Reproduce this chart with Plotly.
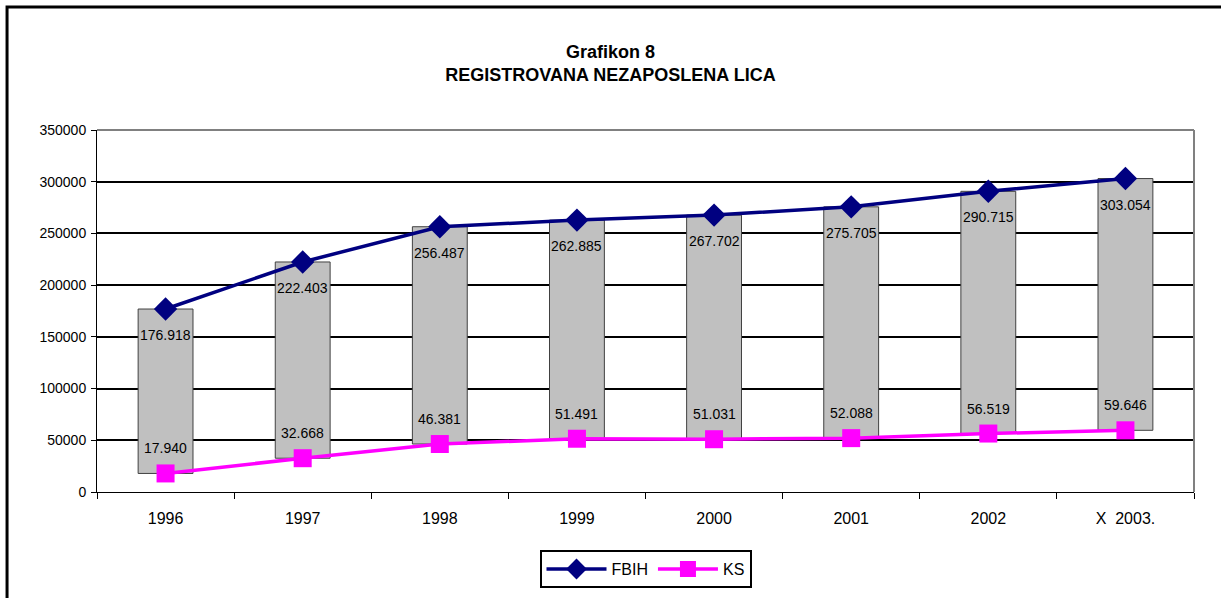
import plotly.graph_objects as go

categories = ["1996", "1997", "1998", "1999", "2000", "2001", "2002", "X  2003."]
fbih = [176918, 222403, 256487, 262885, 267702, 275705, 290715, 303054]
ks = [17940, 32668, 46381, 51491, 51031, 52088, 56519, 59646]
y_ticks = [0, 50000, 100000, 150000, 200000, 250000, 300000, 350000]


def fmt(v):
    return f"{v:,}".replace(",", ".")


FONT = "Liberation Sans, Arial, sans-serif"

fig = go.Figure()

fig.add_trace(go.Bar(
    x=categories,
    y=[h - l for h, l in zip(fbih, ks)],
    base=ks,
    width=0.4,
    marker=dict(color="#C0C0C0", line=dict(color="#404040", width=1)),
    showlegend=False,
    hoverinfo="skip",
))

fig.add_trace(go.Scatter(
    x=categories, y=fbih, name="FBIH", mode="lines+markers",
    line=dict(color="#000080", width=3.5),
    marker=dict(symbol="diamond", size=18, color="#000080"),
))
fig.add_trace(go.Scatter(
    x=categories, y=ks, name="KS", mode="lines+markers",
    line=dict(color="#FF00FF", width=3.5),
    marker=dict(symbol="square", size=18, color="#FF00FF"),
))

for i, v in enumerate(fbih):
    fig.add_annotation(x=i, y=v, text=fmt(v), showarrow=False, yshift=-26,
                       font=dict(family=FONT, size=14, color="black"))
for i, v in enumerate(ks):
    fig.add_annotation(x=i, y=v, text=fmt(v), showarrow=False, yshift=25,
                       font=dict(family=FONT, size=14, color="black"))

fig.update_layout(
    width=1221, height=598,
    margin=dict(l=97, r=27, t=130, b=106, autoexpand=False),
    paper_bgcolor="white", plot_bgcolor="white",
    font=dict(family=FONT, size=14, color="black"),
    title=dict(
        text="<b>Grafikon 8<br>REGISTROVANA NEZAPOSLENA LICA</b>",
        x=0.5, xanchor="center", y=0.903, yref="container", yanchor="middle",
        font=dict(family=FONT, size=18, color="black"),
    ),
    showlegend=True,
    legend=dict(
        orientation="h", x=0.5, xanchor="center", xref="paper",
        y=-0.213, yanchor="middle",
        bordercolor="black", borderwidth=2, bgcolor="white",
        font=dict(family=FONT, size=16, color="black"),
        itemwidth=60,
    ),
)

fig.update_xaxes(
    type="category", showline=True, linecolor="black", linewidth=1,
    ticks="outside", tickson="boundaries", ticklen=6, tickcolor="black",
    showgrid=False, tickfont=dict(family=FONT, size=16, color="black"),
    ticklabelstandoff=12, range=[-0.5, 7.5],
)
fig.update_yaxes(
    range=[0, 350000], tickvals=y_ticks, ticktext=[str(t) for t in y_ticks],
    showline=True, linecolor="black", linewidth=1,
    ticks="outside", ticklen=5, tickcolor="black",
    showgrid=True, gridcolor="black", gridwidth=2,
    zeroline=False, tickfont=dict(family=FONT, size=14, color="black"),
    ticklabelstandoff=2,
)

# plot-area border (top and right, grey)
fig.add_shape(type="line", xref="paper", yref="paper", x0=0, x1=1, y0=1, y1=1,
              line=dict(color="#808080", width=2))
fig.add_shape(type="line", xref="paper", yref="paper", x0=1, x1=1, y0=0, y1=1,
              line=dict(color="#808080", width=2))
# outer chart frame
fig.add_shape(type="rect", xref="paper", yref="paper",
              x0=-0.082, x1=1.05, y0=-0.5, y1=1.34,
              line=dict(color="black", width=3), layer="below")

fig.write_html("out.html", config={"displayModeBar": False},
               post_script="document.body.style.margin='0';")
